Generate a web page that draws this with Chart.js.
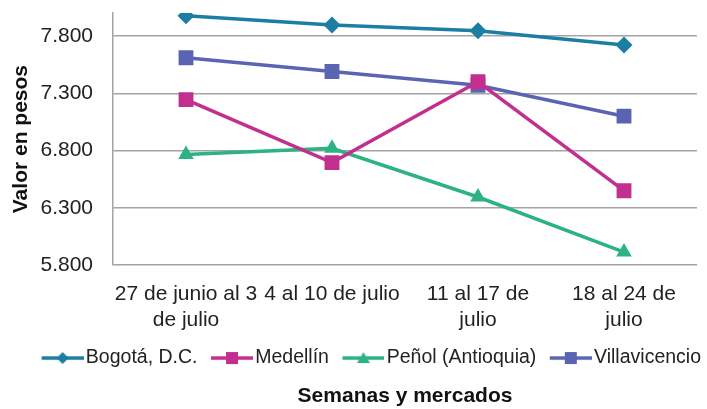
<!DOCTYPE html>
<html>
<head>
<meta charset="utf-8">
<script src="https://cdn.jsdelivr.net/npm/chart.js@4/dist/chart.umd.min.js"></script>
<style>
  html, body { margin: 0; padding: 0; background: #fff; }
  #wrap { width: 707px; height: 409px; }
</style>
</head>
<body>
<div id="wrap"><canvas id="myChart"></canvas></div>
<script>
const semanas = [
  ['27 de junio al 3', 'de julio'],
  ['4 al 10 de julio'],
  ['11 al 17 de', 'julio'],
  ['18 al 24 de', 'julio']
];
const bogota = [7975, 7895, 7845, 7720];
const medellin = [7245, 6695, 7400, 6450];
const penol = [6765, 6820, 6395, 5915];
const villavicencio = [7610, 7490, 7370, 7100];
const yTicks = [5800, 6300, 6800, 7300, 7800];

const font = "'Liberation Sans', Arial, sans-serif";
const legendFont = 19.5;
const legendBox = 34;

// line + marker icon for the legend, drawn at the right end of the canvas
function legendIcon(color, style) {
  const c = document.createElement('canvas');
  c.width = legendBox + legendFont - 4; c.height = 16;
  const ctx = c.getContext('2d');
  const x0 = c.width - 42, cx = x0 + 21;
  ctx.strokeStyle = color;
  ctx.fillStyle = color;
  ctx.lineWidth = 3.5;
  ctx.beginPath();
  ctx.moveTo(x0, 8); ctx.lineTo(c.width, 8);
  ctx.stroke();
  ctx.beginPath();
  if (style === 'diamond') {
    ctx.moveTo(cx, 2); ctx.lineTo(cx + 6, 8); ctx.lineTo(cx, 14); ctx.lineTo(cx - 6, 8);
  } else if (style === 'square') {
    ctx.rect(cx - 6, 2, 12, 12);
  } else {
    ctx.moveTo(cx, 2); ctx.lineTo(cx + 6.5, 13); ctx.lineTo(cx - 6.5, 13);
  }
  ctx.closePath();
  ctx.fill();
  return c;
}

const series = [
  { label: 'Bogotá, D.C.', data: bogota, color: '#1b7ea3', pointStyle: 'rectRot', radius: 8.5, icon: 'diamond' },
  { label: 'Medellín', data: medellin, color: '#c22f8f', pointStyle: 'rect', radius: 10.5, icon: 'square' },
  { label: 'Peñol (Antioquia)', data: penol, color: '#2db383', pointStyle: 'triangle', radius: 9, icon: 'triangle' },
  { label: 'Villavicencio', data: villavicencio, color: '#5b64b2', pointStyle: 'rect', radius: 10.5, icon: 'square' }
];

// nudge the legend row to the right, like the original
const legendShift = {
  id: 'legendShift',
  afterLayout(chart) {
    chart.legend.left += 18;
    chart.legend.right += 18;
  }
};

const config = {
  type: 'line',
  data: {
    labels: semanas,
    datasets: series.map(s => ({
      label: s.label,
      data: s.data,
      borderColor: s.color,
      backgroundColor: s.color,
      borderWidth: 3.5,
      pointStyle: s.pointStyle,
      pointRadius: s.radius,
      pointHoverRadius: s.radius,
      pointBorderWidth: 0,
      tension: 0,
      icon: legendIcon(s.color, s.icon)
    }))
  },
  options: {
    responsive: true,
    maintainAspectRatio: false,
    animation: false,
    layout: { autoPadding: false, padding: { top: 13, right: 10, left: 9, bottom: 0 } },
    scales: {
      x: {
        offset: true,
        grid: { display: false },
        border: { display: false },
        ticks: { color: '#222', font: { family: font, size: 21, lineHeight: 1.24 }, maxRotation: 0, autoSkip: false, padding: 8 },
        afterFit: s => { s.paddingLeft = 0; s.paddingRight = 0; s.height -= 7; }
      },
      y: {
        min: 5800,
        max: 8000,
        afterBuildTicks: axis => { axis.ticks = yTicks.map(v => ({ value: v })); },
        afterFit: s => { s.paddingTop = 0; s.paddingBottom = 0; s.width = 104; },
        grid: { color: '#a3a3a3', lineWidth: 1.5, drawTicks: false },
        border: { color: '#a3a3a3', width: 1.5 },
        ticks: {
          color: '#222',
          padding: 20,
          font: { family: font, size: 21 },
          callback: v => v.toLocaleString('es-CO').replace(',', '.')
        },
        title: { display: true, text: 'Valor en pesos', color: '#111', font: { family: font, size: 21, weight: 'bold' }, padding: { top: 0, bottom: 4 } }
      }
    },
    plugins: {
      legend: {
        position: 'bottom',
        align: 'end',
        labels: {
          usePointStyle: true,
          pointStyleWidth: legendBox,
          color: '#222',
          font: { family: font, size: legendFont },
          padding: 14,
          generateLabels: chart => chart.data.datasets.map((d, i) => ({
            text: d.label,
            pointStyle: d.icon,
            fillStyle: d.borderColor,
            strokeStyle: d.borderColor,
            lineWidth: 0,
            fontColor: '#222',
            datasetIndex: i
          }))
        }
      },
      title: {
        display: true,
        position: 'bottom',
        fullSize: false,
        text: 'Semanas y mercados',
        color: '#111',
        font: { family: font, size: 21, weight: 'bold' },
        padding: { top: 6, bottom: 0 }
      },
      tooltip: { enabled: false }
    }
  },
  plugins: [legendShift]
};

new Chart(document.getElementById('myChart'), config);
</script>
</body>
</html>
